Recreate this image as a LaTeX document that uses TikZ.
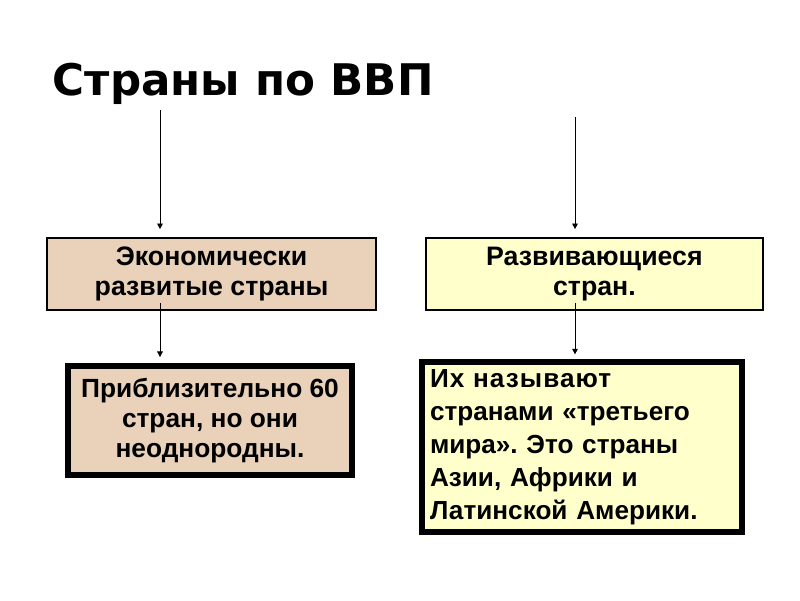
\documentclass[tikz,border=0pt]{standalone}
\usepackage{fontspec}
\setmainfont{Liberation Sans}
\newfontfamily\titlefont{DejaVu Sans}
\usepackage{xcolor}
\definecolor{EconTan}{HTML}{E9D1BA}
\definecolor{DevYellow}{HTML}{FFFFCC}
\usepackage{tikz}
\usetikzlibrary{calc,positioning,arrows.meta}
\frenchspacing

\begin{document}
\begin{tikzpicture}
        % Canvas 800x600
        \useasboundingbox (0,0) rectangle (20,15);
        \tikzset{
            headbox/.style={draw, line width=1.2pt, font=\bfseries\fontsize{19}{21.5}\selectfont, align=center, inner sep=0pt},
            infobox/.style={draw, line width=4pt, font=\bfseries\fontsize{18.7}{21.5}\selectfont, inner sep=0pt},
            arr/.style={-{Triangle[length=4pt,width=4pt]}, line width=0.6pt}
        }
        \node[anchor=base west, font=\titlefont\bfseries\fontsize{31}{36}\selectfont] (title) at (1.2,12.6) {Страны по ВВП};

        \node[headbox, fill=EconTan, minimum width=8.225cm, minimum height=1.8cm] (econ) at (5.29,8.15) {Экономически\\развитые страны};
        \node[headbox, fill=DevYellow, minimum width=8.425cm, minimum height=1.8cm] (dev) at (14.86,8.15) {Развивающиеся\\стран.};

        \node[infobox, fill=EconTan, minimum width=7.1cm, minimum height=2.725cm, align=center] (approx) at (5.25,4.49) {Приблизительно 60\\стран, но они\\неоднородны.};
        \node[infobox, fill=DevYellow, minimum width=8cm, minimum height=4.25cm, text width=7.6cm, align=left, font=\bfseries\fontsize{18.6}{23.4}\selectfont] (third) at (14.55,3.825) {{\addfontfeature{LetterSpace=4}Их называют}\\странами «третьего\\мира». Это страны\\Азии, Африки и\\Латинской Америки.};

        \coordinate (topL) at (4.0,12.25);
        \coordinate (topR) at (14.375,12.075);

        \draw[arr, shorten >=0.2cm] (topL) -- (topL |- econ.north);
        \draw[arr, shorten >=0.2cm] (topR) -- (topR |- dev.north);
        \draw[arr, shorten >=0.15cm] ([yshift=0.2cm]topL |- econ.south) -- (topL |- approx.north);
        \draw[arr, shorten >=0.12cm] ([yshift=0.2cm]topR |- dev.south) -- (topR |- third.north);
\end{tikzpicture}
\end{document}
